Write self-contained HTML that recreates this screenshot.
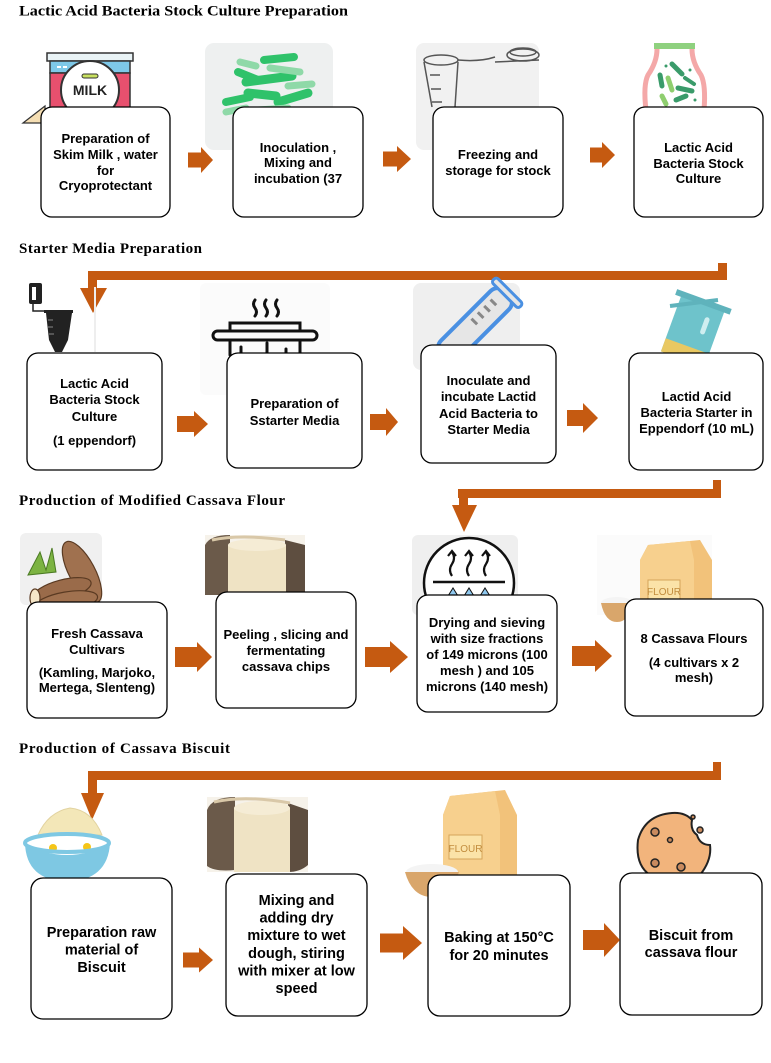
<!DOCTYPE html>
<html><head><meta charset="utf-8"><style>
html,body{margin:0;padding:0;background:#fff;}
svg{display:block;}
.t{font-family:"Liberation Serif",serif;font-weight:bold;font-size:15px;fill:#000;}
.b{font-family:"Liberation Sans",sans-serif;font-weight:bold;font-size:13px;fill:#000;text-anchor:middle;}
.b4{font-family:"Liberation Sans",sans-serif;font-weight:bold;font-size:14.5px;fill:#000;text-anchor:middle;}
.box{fill:#fff;stroke:#000;stroke-width:1.3;}
.or{fill:#C55A11;}
</style></head><body>
<svg width="771" height="1063" viewBox="0 0 771 1063" xmlns="http://www.w3.org/2000/svg">

<!-- ===== Titles ===== -->
<text class="t" x="19" y="15.5" textLength="329" lengthAdjust="spacingAndGlyphs">Lactic Acid Bacteria Stock Culture Preparation</text>
<text class="t" x="19" y="253" textLength="183" lengthAdjust="spacing">Starter Media Preparation</text>
<text class="t" x="19" y="505" textLength="266" lengthAdjust="spacing">Production of Modified Cassava Flour</text>
<text class="t" x="19" y="753" textLength="211" lengthAdjust="spacing">Production of Cassava Biscuit</text>

<!-- ===== Row 1 images ===== -->
<!-- milk carton -->
<polygon points="23,123 45,106 45,123" fill="#f5deb3" stroke="#333" stroke-width="1.2"/>
<rect x="47" y="53" width="86" height="8" fill="#e9f3f6" stroke="#333" stroke-width="1.5"/>
<rect x="50" y="61" width="80" height="12" fill="#7ec8e8" stroke="#333" stroke-width="1.5"/>
<rect x="50" y="73" width="80" height="40" fill="#e8506e" stroke="#333" stroke-width="1.5"/>
<circle cx="90" cy="90" r="29" fill="#fff" stroke="#333" stroke-width="2"/>
<rect x="82" y="74" width="16" height="4" rx="2" fill="#c8e060" stroke="#333" stroke-width="1"/>
<text x="90" y="95" font-family="Liberation Sans,sans-serif" font-weight="bold" font-size="14" text-anchor="middle" fill="#222">MILK</text>
<rect x="57" y="66" width="4" height="2" fill="#fff"/><rect x="63" y="66" width="4" height="2" fill="#fff"/>

<!-- bacteria -->
<rect x="205" y="43" width="128" height="107" rx="9" fill="#eef0f0"/>
<g stroke-linecap="round" fill="none">
<line x1="264" y1="60" x2="294" y2="57" stroke="#2fc26a" stroke-width="8"/>
<line x1="240" y1="62" x2="256" y2="66" stroke="#8fd9a8" stroke-width="7"/>
<line x1="238" y1="72" x2="258" y2="80" stroke="#2fc26a" stroke-width="8"/>
<line x1="246" y1="82" x2="292" y2="76" stroke="#2fc26a" stroke-width="9"/>
<line x1="270" y1="68" x2="300" y2="72" stroke="#8fd9a8" stroke-width="7"/>
<line x1="248" y1="93" x2="276" y2="96" stroke="#2fc26a" stroke-width="9"/>
<line x1="226" y1="102" x2="250" y2="97" stroke="#2fc26a" stroke-width="8"/>
<line x1="278" y1="102" x2="308" y2="93" stroke="#2fc26a" stroke-width="9"/>
<line x1="226" y1="112" x2="246" y2="108" stroke="#8fd9a8" stroke-width="7"/>
<line x1="258" y1="110" x2="288" y2="108" stroke="#8fd9a8" stroke-width="7"/>
<line x1="288" y1="86" x2="312" y2="84" stroke="#8fd9a8" stroke-width="7"/>
</g>

<!-- eppendorf tube drawing -->
<rect x="416" y="43" width="123" height="107" rx="8" fill="#f1f1f1"/>
<g fill="none" stroke="#555" stroke-width="1.5">
<ellipse cx="441" cy="60" rx="17" ry="5"/>
<path d="M424 62 L432 107"/>
<path d="M458 62 L455 107"/>
<path d="M458 60 Q480 62 495 57"/>
<ellipse cx="523" cy="55" rx="16" ry="6"/>
<ellipse cx="523" cy="52" rx="13" ry="4"/>
<path d="M495 62 L539 60"/>
<line x1="430" y1="75" x2="440" y2="75"/>
<line x1="431" y1="89" x2="441" y2="89"/>
<line x1="432" y1="102" x2="442" y2="102"/>
</g>

<!-- jar -->
<rect x="654" y="43" width="41" height="6" fill="#8fd17f"/>
<path d="M657 49 Q657 62 648 75 Q643 85 646 110 M692 49 Q692 62 701 75 Q706 85 704 110" fill="none" stroke="#f4a8a8" stroke-width="5"/>
<g stroke-linecap="round">
<line x1="672" y1="64" x2="682" y2="74" stroke="#3a9b6a" stroke-width="5"/>
<line x1="660" y1="75" x2="662" y2="86" stroke="#3a9b6a" stroke-width="5"/>
<line x1="668" y1="78" x2="672" y2="90" stroke="#8fce6f" stroke-width="5"/>
<line x1="678" y1="88" x2="692" y2="91" stroke="#3a9b6a" stroke-width="5"/>
<line x1="685" y1="78" x2="694" y2="84" stroke="#3a9b6a" stroke-width="4"/>
<line x1="662" y1="96" x2="666" y2="104" stroke="#8fce6f" stroke-width="5"/>
<line x1="676" y1="100" x2="686" y2="96" stroke="#3a9b6a" stroke-width="5"/>
</g>
<circle cx="666" cy="66" r="1.5" fill="#3a9b6a"/><circle cx="690" cy="70" r="1.5" fill="#3a9b6a"/><circle cx="695" cy="100" r="1.5" fill="#3a9b6a"/>

<!-- ===== Row 1 boxes ===== -->
<rect class="box" x="41" y="107" width="129" height="110" rx="11"/>
<rect class="box" x="233" y="107" width="130" height="110" rx="11"/>
<rect class="box" x="433" y="107" width="130" height="110" rx="11"/>
<rect class="box" x="634" y="107" width="129" height="110" rx="11"/>

<text class="b" x="105.5" y="143">Preparation of</text>
<text class="b" x="105.5" y="159">Skim Milk , water</text>
<text class="b" x="105.5" y="175">for</text>
<text class="b" x="105.5" y="190">Cryoprotectant</text>

<text class="b" x="298" y="152">Inoculation ,</text>
<text class="b" x="298" y="167">Mixing and</text>
<text class="b" x="298" y="183">incubation (37</text>

<text class="b" x="498" y="159">Freezing and</text>
<text class="b" x="498" y="175">storage for stock</text>

<text class="b" x="698.5" y="152">Lactic Acid</text>
<text class="b" x="698.5" y="168">Bacteria Stock</text>
<text class="b" x="698.5" y="183">Culture</text>

<!-- Row1 arrows -->
<polygon class="or" points="188,152.5 201,152.5 201,147 213,160 201,173 201,167.5 188,167.5"/>
<polygon class="or" points="383,151.5 397,151.5 397,146 411,159 397,172 397,166.5 383,166.5"/>
<polygon class="or" points="590,147.5 602,147.5 602,142 615,155 602,168 602,162.5 590,162.5"/>

<!-- Connector 1 -->
<rect class="or" x="88" y="271" width="639" height="9"/>
<rect class="or" x="718" y="263" width="9" height="17"/>
<rect class="or" x="88" y="271" width="9" height="19"/>
<polygon class="or" points="80,288 107,288 93,313"/>

<!-- ===== Row 2 images ===== -->
<!-- black eppendorf -->
<rect x="29" y="283" width="13" height="21" rx="2" fill="#222"/>
<rect x="32" y="287" width="4" height="13" fill="#fff"/>
<path d="M33 304 L33 311 L46 311" fill="none" stroke="#222" stroke-width="1.5"/>
<rect x="44" y="310" width="29" height="3" fill="#222"/>
<polygon points="46,313 72,313 68,340 62,352 55,352 49,340" fill="#222"/>
<g stroke="#888" stroke-width="1"><line x1="48" y1="320" x2="53" y2="320"/><line x1="48" y1="327" x2="53" y2="327"/><line x1="49" y1="334" x2="54" y2="334"/></g>
<line x1="95" y1="287" x2="95" y2="352" stroke="#eee" stroke-width="2"/>

<!-- pot -->
<rect x="200" y="283" width="130" height="112" rx="6" fill="#fbfbfb"/>
<g fill="none" stroke="#111" stroke-width="3" stroke-linecap="round">
<path d="M255 300 q-3 4 0 8 q3 4 0 8"/>
<path d="M266 300 q-3 4 0 8 q3 4 0 8"/>
<path d="M277 300 q-3 4 0 8 q3 4 0 8"/>
<rect x="213" y="331" width="104" height="9" rx="4.5"/>
<path d="M230 331 L230 323 L300 323 L300 331"/>
<path d="M230 340 L230 355 M300 340 L300 355"/>
<path d="M241 355 L241 347 M267 355 L267 343 M286 355 L286 349"/>
</g>

<!-- blue test tube -->
<rect x="413" y="283" width="107" height="87" rx="8" fill="#efefef"/>
<g transform="rotate(45 475 325)">
<rect x="462" y="280" width="26" height="90" rx="10" fill="#e6e6e6" stroke="#4a90e2" stroke-width="4"/>
<rect x="456" y="276" width="38" height="7" rx="3" fill="#e6e6e6" stroke="#4a90e2" stroke-width="3"/>
<g stroke="#888" stroke-width="3"><line x1="468" y1="296" x2="476" y2="296"/><line x1="468" y1="305" x2="476" y2="305"/><line x1="468" y1="314" x2="476" y2="314"/><line x1="468" y1="323" x2="476" y2="323"/></g>
</g>

<!-- teal tube -->
<g transform="rotate(20 690 330)">
<rect x="670" y="300" width="46" height="60" fill="#6ec3cb"/>
<rect x="664" y="296" width="58" height="6" fill="#5fb3bc"/>
<rect x="670" y="346" width="46" height="14" fill="#e9c862"/>
<rect x="700" y="312" width="5" height="18" rx="2.5" fill="#cfeef0"/>
</g>
<path d="M670 306 L718 300" stroke="#5fb3bc" stroke-width="4"/>

<!-- ===== Row 2 boxes ===== -->
<rect class="box" x="27" y="353" width="135" height="117" rx="11"/>
<rect class="box" x="227" y="353" width="135" height="115" rx="11"/>
<rect class="box" x="421" y="345" width="135" height="118" rx="11"/>
<rect class="box" x="629" y="353" width="134" height="117" rx="11"/>

<text class="b" x="94.5" y="388">Lactic Acid</text>
<text class="b" x="94.5" y="404">Bacteria Stock</text>
<text class="b" x="94.5" y="421">Culture</text>
<text class="b" x="94.5" y="445">(1 eppendorf)</text>

<text class="b" x="294.5" y="408">Preparation of</text>
<text class="b" x="294.5" y="425">Sstarter Media</text>

<text class="b" x="488.5" y="385">Inoculate and</text>
<text class="b" x="488.5" y="401">incubate Lactid</text>
<text class="b" x="488.5" y="418">Acid Bacteria to</text>
<text class="b" x="488.5" y="434">Starter Media</text>

<text class="b" x="696.5" y="401">Lactid Acid</text>
<text class="b" x="696.5" y="417">Bacteria Starter in</text>
<text class="b" x="696.5" y="433">Eppendorf (10 mL)</text>

<!-- Row2 arrows -->
<polygon class="or" points="177,416 194,416 194,411 208,424 194,437 194,432 177,432"/>
<polygon class="or" points="370,414 386,414 386,408 398,422 386,436 386,430 370,430"/>
<polygon class="or" points="567,410 583,410 583,403 598,418 583,433 583,426 567,426"/>

<!-- Connector 2 -->
<rect class="or" x="458" y="489" width="263" height="9"/>
<rect class="or" x="713" y="480" width="8" height="18"/>
<rect class="or" x="459" y="489" width="9" height="18"/>
<polygon class="or" points="452,505 477,505 464,532"/>

<!-- ===== Row 3 images ===== -->
<!-- cassava roots -->
<rect x="20" y="533" width="82" height="72" rx="6" fill="#f0f0f0"/>
<path d="M28 575 L40 552 L46 570 L52 548 L56 572 Z" fill="#7cb342" stroke="#4a7a22" stroke-width="1"/>
<g stroke="#5a3a22" stroke-width="1.2">
<ellipse cx="82" cy="572" rx="13" ry="34" transform="rotate(-28 82 572)" fill="#a0714f"/>
<ellipse cx="62" cy="590" rx="30" ry="10" transform="rotate(-15 62 590)" fill="#9a6b4a"/>
<ellipse cx="66" cy="602" rx="32" ry="10" transform="rotate(-10 66 602)" fill="#a0714f"/>
<ellipse cx="35" cy="598" rx="5" ry="9" fill="#f5e6c8"/>
<ellipse cx="43" cy="612" rx="5" ry="9" fill="#f5e6c8"/>
</g>

<!-- peeled cassava -->
<rect x="205" y="535" width="100" height="60" fill="#f6f2ea"/>
<path d="M205 545 Q210 535 230 535 L230 595 L205 595 Z" fill="#6b5a4a"/>
<path d="M285 540 L305 545 L305 595 L285 595 Z" fill="#5e4e40"/>
<rect x="228" y="545" width="58" height="50" fill="#efe3c4"/>
<ellipse cx="257" cy="545" rx="29" ry="6" fill="#f5ecd5"/>
<path d="M212 540 Q240 534 285 540" fill="none" stroke="#d9c8a8" stroke-width="3"/>

<!-- drying icon -->
<rect x="412" y="535" width="106" height="80" rx="6" fill="#efefef"/>
<circle cx="469" cy="583" r="45" fill="#fff" stroke="#111" stroke-width="2.5"/>
<line x1="433" y1="582" x2="505" y2="582" stroke="#111" stroke-width="2.5"/>
<g fill="none" stroke="#111" stroke-width="2.2">
<path d="M452 576 q-4 -6 0 -12 q4 -6 0 -12"/><path d="M448 556 l4 -5 l4 5"/>
<path d="M469 576 q-4 -6 0 -12 q4 -6 0 -12"/><path d="M465 556 l4 -5 l4 5"/>
<path d="M486 576 q-4 -6 0 -12 q4 -6 0 -12"/><path d="M482 556 l4 -5 l4 5"/>
</g>
<g fill="#8fc8ef" stroke="#111" stroke-width="1"><path d="M448 596 l5 -8 l5 8 z"/><path d="M464 596 l5 -8 l5 8 z"/><path d="M480 596 l5 -8 l5 8 z"/></g>

<!-- flour bag row 3 -->
<rect x="597" y="535" width="115" height="80" fill="#fbfbfb"/>
<polygon points="648,545 700,540 712,560 712,610 640,610 640,560" fill="#f2c27a"/>
<polygon points="648,545 690,541 694,560 694,610 640,610 640,560" fill="#f7d08e"/>
<rect x="648" y="580" width="32" height="20" fill="#fbe3a8" stroke="#d6a55a" stroke-width="1"/>
<text x="664" y="595" font-family="Liberation Sans,sans-serif" font-size="10" text-anchor="middle" fill="#c28d3e">FLOUR</text>
<ellipse cx="617" cy="603" rx="16" ry="6" fill="#f4f4f4"/>
<path d="M601 603 Q605 622 617 622 Q629 622 633 603 Z" fill="#d9a66b"/>

<!-- ===== Row 3 boxes ===== -->
<rect class="box" x="27" y="602" width="140" height="116" rx="11"/>
<rect class="box" x="216" y="592" width="140" height="116" rx="11"/>
<rect class="box" x="417" y="595" width="140" height="117" rx="11"/>
<rect class="box" x="625" y="599" width="138" height="117" rx="11"/>

<text class="b" x="97" y="638">Fresh Cassava</text>
<text class="b" x="97" y="654">Cultivars</text>
<text class="b" x="97" y="677">(Kamling, Marjoko,</text>
<text class="b" x="97" y="692">Mertega, Slenteng)</text>

<text class="b" x="286" y="639">Peeling , slicing and</text>
<text class="b" x="286" y="655">fermentating</text>
<text class="b" x="286" y="671">cassava chips</text>

<text class="b" x="487" y="627">Drying and sieving</text>
<text class="b" x="487" y="643">with size fractions</text>
<text class="b" x="487" y="659">of 149 microns (100</text>
<text class="b" x="487" y="675">mesh ) and 105</text>
<text class="b" x="487" y="691">microns (140 mesh)</text>

<text class="b" x="694" y="643">8 Cassava Flours</text>
<text class="b" x="694" y="667">(4 cultivars x 2</text>
<text class="b" x="694" y="682">mesh)</text>

<!-- Row3 arrows -->
<polygon class="or" points="175,647 197,647 197,642 212,657 197,672 197,667 175,667"/>
<polygon class="or" points="365,647 390,647 390,641 408,657 390,673 390,667 365,667"/>
<polygon class="or" points="572,646 595,646 595,640 612,656 595,672 595,666 572,666"/>

<!-- Connector 3 -->
<rect class="or" x="88" y="771" width="633" height="9"/>
<rect class="or" x="713" y="762" width="8" height="18"/>
<rect class="or" x="88" y="771" width="9" height="24"/>
<polygon class="or" points="81,793 104,793 92,820"/>

<!-- ===== Row 4 images ===== -->
<!-- bowl -->
<path d="M38 835 Q48 812 70 808 Q92 810 102 835 Z" fill="#f3e7b8" stroke="#e2d3a0" stroke-width="1"/>
<ellipse cx="55" cy="848" rx="14" ry="7" fill="#fff"/><circle cx="53" cy="848" r="4" fill="#f5c518"/>
<ellipse cx="85" cy="848" rx="14" ry="7" fill="#fff"/><circle cx="87" cy="847" r="4" fill="#f5c518"/>
<path d="M25 843 Q26 880 67 882 Q108 880 110 843 Q90 855 67 855 Q44 855 25 843 Z" fill="#7ec8e3"/>
<ellipse cx="67" cy="843" rx="42" ry="9" fill="none" stroke="#7ec8e3" stroke-width="4"/>

<!-- peeled cassava row 4 -->
<rect x="207" y="797" width="101" height="75" fill="#f6f2ea"/>
<path d="M207 810 Q212 797 235 797 L235 870 Q215 872 207 866 Z" fill="#6b5a4a"/>
<path d="M288 803 L308 810 L308 865 Q300 872 288 872 Z" fill="#5e4e40"/>
<rect x="234" y="808" width="56" height="64" fill="#efe3c4"/>
<ellipse cx="262" cy="808" rx="28" ry="7" fill="#f5ecd5"/>
<path d="M214 802 Q245 795 290 803" fill="none" stroke="#d9c8a8" stroke-width="3"/>

<!-- flour bag row 4 -->
<polygon points="450,796 505,790 517,815 517,880 443,880 443,815" fill="#f2c27a"/>
<polygon points="450,796 495,791 500,815 500,880 443,880 443,815" fill="#f7d08e"/>
<rect x="449" y="835" width="33" height="24" fill="#fbe3a8" stroke="#d6a55a" stroke-width="1"/>
<text x="465.5" y="852" font-family="Liberation Sans,sans-serif" font-size="10" text-anchor="middle" fill="#c28d3e">FLOUR</text>
<ellipse cx="432" cy="872" rx="26" ry="8" fill="#f4f4f4"/>
<path d="M405 872 Q412 897 432 897 Q452 897 459 872 Z" fill="#d9a66b"/>

<!-- cookie -->
<path d="M672 813 Q645 815 638 840 Q635 865 650 875 L700 875 Q712 860 710 845 Q700 845 697 835 Q690 830 692 820 Q685 812 672 813 Z" fill="#f2b47c" stroke="#222" stroke-width="2"/>
<g fill="#c98a5e" stroke="#222" stroke-width="1.5">
<circle cx="655" cy="832" r="4"/><circle cx="670" cy="840" r="2.5"/><circle cx="655" cy="863" r="4"/><circle cx="681" cy="867" r="4"/><circle cx="700" cy="830" r="3"/><circle cx="693" cy="817" r="2"/>
</g>

<!-- ===== Row 4 boxes ===== -->
<rect class="box" x="31" y="878" width="141" height="141" rx="12"/>
<rect class="box" x="226" y="874" width="141" height="142" rx="12"/>
<rect class="box" x="428" y="875" width="142" height="141" rx="12"/>
<rect class="box" x="620" y="873" width="142" height="142" rx="12"/>

<text class="b4" x="101.5" y="937">Preparation raw</text>
<text class="b4" x="101.5" y="954.5">material of</text>
<text class="b4" x="101.5" y="972">Biscuit</text>

<text class="b4" x="296.5" y="905">Mixing and</text>
<text class="b4" x="296.5" y="922.6">adding dry</text>
<text class="b4" x="296.5" y="940.2">mixture to wet</text>
<text class="b4" x="296.5" y="957.8">dough, stiring</text>
<text class="b4" x="296.5" y="975.4">with mixer at low</text>
<text class="b4" x="296.5" y="993">speed</text>

<text class="b4" x="499" y="942">Baking at 150°C</text>
<text class="b4" x="499" y="960">for 20 minutes</text>

<text class="b4" x="691" y="940">Biscuit from</text>
<text class="b4" x="691" y="957">cassava flour</text>

<!-- Row4 arrows -->
<polygon class="or" points="183,952.5 199,952.5 199,947.5 213,960 199,972.5 199,967.5 183,967.5"/>
<polygon class="or" points="380,933.5 403,933.5 403,926 422,943 403,960 403,952.5 380,952.5"/>
<polygon class="or" points="583,930 604,930 604,923 620,940 604,957 604,950 583,950"/>

</svg>
</body></html>
